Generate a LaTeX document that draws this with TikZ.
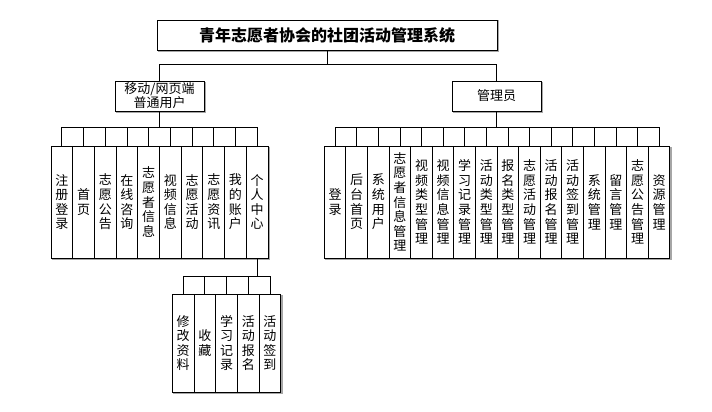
\documentclass[tikz,border=0pt]{standalone}
\usepackage{fontspec}
\setmainfont{Noto Sans CJK SC}
\begin{document}
\begin{tikzpicture}[x=1pt,y=-1pt,
  box/.style={draw=black, line width=0.9pt, fill=white, inner sep=0pt, align=center,
    preaction={draw=gray!70, line width=1.4pt, transform canvas={shift={(1.2pt,-1.2pt)}}}},
  leaf/.style={box, minimum width=21.7pt, minimum height=112pt, font=\fontsize{13}{14.6}\selectfont},
  aleaf/.style={box, minimum width=21.6pt, minimum height=112pt, font=\fontsize{13}{14.6}\selectfont},
  sleaf/.style={box, minimum width=21.7pt, minimum height=98pt, font=\fontsize{13}{14.6}\selectfont},
  conn/.style={draw=black, line width=0.8pt}]
\useasboundingbox (0,0) rectangle (712,412);
\fill[white] (0,0) rectangle (712,412);
% top
\node[box, minimum width=340pt, minimum height=30pt, font=\fontsize{16}{18}\selectfont\bfseries] (title) at (327,35) {青年志愿者协会的社团活动管理系统};
\node[box, minimum width=89pt, minimum height=30pt, font=\fontsize{13}{14}\selectfont] (user) at (159.5,96) {移动/网页端\\普通用户};
\node[box, minimum width=89pt, minimum height=30pt, font=\fontsize{13}{14}\selectfont] (admin) at (496.5,96) {管理员};
\draw[conn] (title.south) -- (title.south |- 0,65);
\draw[conn] (user.north) -- ++(0,-16) -| (admin.north);
% user leaves
\foreach \t [count=\i] in {{注\\册\\登\\录},{首\\页},{志\\愿\\公\\告},{在\\线\\咨\\询},{志\\愿\\者\\信\\息},{视\\频\\信\\息},{志\\愿\\活\\动},{志\\愿\\资\\讯},{我\\的\\账\\户},{个\\人\\中\\心}}{
  \node[leaf] (u\i) at ({61.85+21.7*(\i-1)},202) {\t};
  \draw[conn] (user.south) -- ++(0,16) -| (u\i.north);
}
% admin leaves
\foreach \t [count=\i] in {{登\\录},{后\\台\\首\\页},{系\\统\\用\\户},{志\\愿\\者\\信\\息\\管\\理},{视\\频\\类\\型\\管\\理},{视\\频\\信\\息\\管\\理},{学\\习\\记\\录\\管\\理},{活\\动\\类\\型\\管\\理},{报\\名\\类\\型\\管\\理},{志\\愿\\活\\动\\管\\理},{活\\动\\报\\名\\管\\理},{活\\动\\签\\到\\管\\理},{系\\统\\管\\理},{留\\言\\管\\理},{志\\愿\\公\\告\\管\\理},{资\\源\\管\\理}}{
  \node[aleaf] (a\i) at ({335.1+21.6*(\i-1)},202) {\t};
  \draw[conn] (admin.south) -- ++(0,16) -| (a\i.north);
}
% sub leaves of 个人中心
\foreach \t [count=\i] in {{修\\改\\资\\料},{收\\藏},{学\\习\\记\\录},{活\\动\\报\\名},{活\\动\\签\\到}}{
  \node[sleaf] (s\i) at ({183.15+21.7*(\i-1)},343) {\t};
  \draw[conn] (u10.south) -- ++(0,18) -| (s\i.north);
}
\end{tikzpicture}
\end{document}
